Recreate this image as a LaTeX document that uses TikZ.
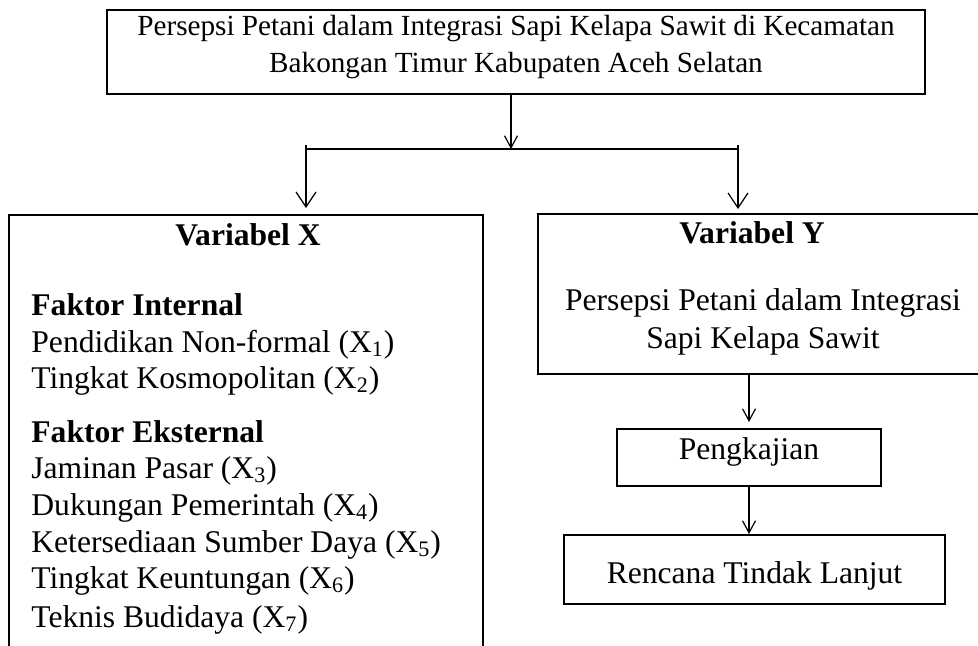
\documentclass[tikz,border=0pt]{standalone}
\usepackage{fontspec}
\setmainfont{Liberation Serif}
\usetikzlibrary{arrows.meta,positioning}

\begin{document}
\begin{tikzpicture}[x=0.5pt, y=-0.5pt,
        every node/.style={font=\fontsize{15.8}{18.5}\selectfont, inner sep=0pt},
        kotak/.style={draw, line width=1pt, rectangle},
        garis/.style={line width=0.6pt},
        panah/.style={line width=0.6pt, -{Straight Barb[length=7.5pt,width=10pt]}},
        panahkecil/.style={line width=0.6pt, -{Straight Barb[length=6pt,width=6.5pt]}}]
        \useasboundingbox (0,0) rectangle (978,645);
        % judul
        \node[kotak, minimum width=409pt, minimum height=42pt, align=center, text depth=8pt,
                font=\fontsize{14.6}{18.5}\selectfont] (judul) at (516,52)
                {Persepsi Petani dalam Integrasi Sapi Kelapa Sawit di Kecamatan\\Bakongan Timur Kabupaten Aceh Selatan};
        % variabel X
        \node[kotak, minimum width=237pt, minimum height=226pt, anchor=north west] (varx) at (8,214) {};
        \node[anchor=base] (judulx) at (248,245) {\textbf{Variabel X}};
        \foreach \teks/\y [count=\i] in {{\textbf{Faktor Internal}}/315,
                {Pendidikan Non-formal (X\textsubscript{1})}/352,
                {Tingkat Kosmopolitan (X\textsubscript{2})}/388,
                {\textbf{Faktor Eksternal}}/442,
                {Jaminan Pasar (X\textsubscript{3})}/478,
                {Dukungan Pemerintah (X\textsubscript{4})}/515,
                {Ketersediaan Sumber Daya (X\textsubscript{5})}/552,
                {Tingkat Keuntungan (X\textsubscript{6})}/588,
                {Teknis Budidaya (X\textsubscript{7})}/627}
                \node[anchor=base west] (x\i) at (31,\y) {\teks};
        % variabel Y
        \node[kotak, minimum width=226.5pt, minimum height=80pt, anchor=north west] (vary) at (537,213) {};
        \node[anchor=base] (juduly) at (752,243) {\textbf{Variabel Y}};
        \node[anchor=base] (y1) at (763,310) {Persepsi Petani dalam Integrasi};
        \node[anchor=base] (y2) at (763,348) {Sapi Kelapa Sawit};
        \node[kotak, minimum width=132pt, minimum height=28.5pt, text height=5pt, text depth=3.5pt,
                anchor=north west] (kaji) at (616,428) {Pengkajian};
        \node[kotak, minimum width=190.5pt, minimum height=34.5pt, text height=14pt, text depth=0.5pt,
                anchor=north west] (rtl) at (563,534) {Rencana Tindak Lanjut};
        % panah
        \coordinate (cabang) at (511,149);
        \coordinate (kiriatas) at (306,145);
        \coordinate (kananatas) at (738,145);
        \draw[panahkecil] (judul.south -| cabang) -- (cabang);
        \draw[garis] (kiriatas |- cabang) -- (kananatas |- cabang);
        \draw[panah, shorten >=3pt] (kiriatas) -- (kiriatas |- varx.north);
        \draw[panah, shorten >=2pt] (kananatas) -- (kananatas |- vary.north);
        \draw[panahkecil, shorten >=3pt] (kaji.north |- vary.south) -- (kaji.north);
        \draw[panahkecil] (kaji.south) -- (kaji.south |- rtl.north);
\end{tikzpicture}
\end{document}
